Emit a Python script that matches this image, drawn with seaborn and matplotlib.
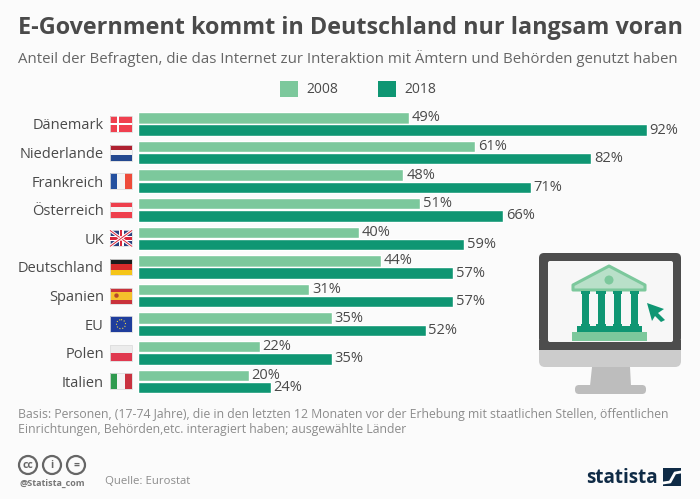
import matplotlib
matplotlib.use("Agg")
import matplotlib.pyplot as plt
from matplotlib.patches import Rectangle, Polygon, Circle, FancyBboxPatch
import pandas as pd
import seaborn as sns

# Data
countries = ["Dänemark", "Niederlande", "Frankreich", "Österreich", "UK",
             "Deutschland", "Spanien", "EU", "Polen", "Italien"]
values_2008 = [49, 61, 48, 51, 40, 44, 31, 35, 22, 20]
values_2018 = [92, 82, 71, 66, 59, 57, 57, 52, 35, 24]
years = ["2008", "2018"]

title = "E-Government kommt in Deutschland nur langsam voran"
subtitle = "Anteil der Befragten, die das Internet zur Interaktion mit Ämtern und Behörden genutzt haben"
note = ("Basis: Personen, (17-74 Jahre), die in den letzten 12 Monaten vor der Erhebung mit staatlichen Stellen, öffentlichen\n"
        "Einrichtungen, Behörden,etc. interagiert haben; ausgewählte Länder")

LIGHT = "#7cc89c"
DARK = "#0f9673"
TEXT = "#4a4a4a"
GREY = "#8c8c8c"
BG = "#fbfbfb"

W, H = 700, 499

sns.set_theme(style="white")
plt.rcParams["font.family"] = ["Open Sans", "DejaVu Sans"]

df = pd.DataFrame({"Land": countries, "2008": values_2008, "2018": values_2018})
df = df.melt(id_vars="Land", value_vars=years, var_name="Jahr", value_name="Anteil")

fig = plt.figure(figsize=(W / 100, H / 100), dpi=100, facecolor=BG)

# Overlay in pixel coordinates for flags, icons and footer
deco = fig.add_axes([0, 0, 1, 1])
deco.set_xlim(0, W)
deco.set_ylim(H, 0)
deco.axis("off")

# Main chart
ax = fig.add_axes([138 / W, 1 - 395.7 / H, 553 / W, 286 / H])
ax.patch.set_alpha(0)
sns.barplot(data=df, y="Land", x="Anteil", hue="Jahr", hue_order=years,
            palette=[LIGHT, DARK], width=0.84, gap=0.05, saturation=1, ax=ax)
ax.set_xlim(0, 100)
ax.set_ylim(9.5, -0.5)
ax.set_xlabel("")
ax.set_ylabel("")
ax.set_xticks([])
ax.tick_params(axis="y", length=0, pad=24.5, labelsize=10.5, labelcolor=TEXT)
sns.despine(ax=ax, left=True, bottom=True)
for container in ax.containers:
    ax.bar_label(container, fmt="%g%%", padding=2, fontsize=10.5, color=TEXT)
ax.get_legend().remove()

# Title block
deco.text(18, 28, title, fontsize=16.8, fontweight="bold", color=TEXT, va="center")
deco.text(18, 58, subtitle, fontsize=10.78, color="#666666", va="center")

# Legend
for x0, col, lab in [(280, LIGHT, years[0]), (378, DARK, years[1])]:
    deco.add_patch(Rectangle((x0, 81), 18, 16, color=col, lw=0))
    deco.text(x0 + 26, 89, lab, fontsize=10, color=TEXT, va="center")


# Flags
def stripes_h(i, colors):
    cy = 124 + 28.6 * i
    h = 16 / len(colors)
    for k, c in enumerate(colors):
        deco.add_patch(Rectangle((110, cy - 8 + k * h), 22, h, color=c, lw=0))
    deco.add_patch(Rectangle((110, cy - 8), 22, 16, fill=False, ec="#dddddd", lw=0.6))


def stripes_v(i, colors):
    cy = 124 + 28.6 * i
    w = 22 / len(colors)
    for k, c in enumerate(colors):
        deco.add_patch(Rectangle((110 + k * w, cy - 8), w, 16, color=c, lw=0))
    deco.add_patch(Rectangle((110, cy - 8), 22, 16, fill=False, ec="#dddddd", lw=0.6))


stripes_h(0, ["#f0404f"])
deco.add_patch(Rectangle((110, 122.7), 22, 2.6, color="white", lw=0))
deco.add_patch(Rectangle((116.5, 116), 2.6, 16, color="white", lw=0))
stripes_h(1, ["#ae2030", "#f4f4f4", "#23488f"])
stripes_v(2, ["#24509f", "#f4f4f4", "#ee4b3a"])
stripes_h(3, ["#ee3f4c", "#f4f4f4", "#ee3f4c"])
# UK
cy = 124 + 28.6 * 4
stripes_h(4, ["#2b3f7f"])
for a, b in [((110, cy - 8), (132, cy + 8)), ((110, cy + 8), (132, cy - 8))]:
    deco.plot(*zip(a, b), color="white", lw=2.2, solid_capstyle="butt")
    deco.plot(*zip(a, b), color="#d9283c", lw=0.7, solid_capstyle="butt")
deco.add_patch(Rectangle((110, cy - 2.5), 22, 5, color="white", lw=0))
deco.add_patch(Rectangle((118.5, cy - 8), 5, 16, color="white", lw=0))
deco.add_patch(Rectangle((110, cy - 1.2), 22, 2.4, color="#d9283c", lw=0))
deco.add_patch(Rectangle((119.8, cy - 8), 2.4, 16, color="#d9283c", lw=0))
stripes_h(5, ["#1c1c1c", "#d92b2b", "#f5c518"])
# Spain
cy = 124 + 28.6 * 6
stripes_h(6, ["#c9323b", "#f5c02c", "#f5c02c", "#c9323b"])
deco.add_patch(Circle((116.5, cy), 2.2, color="#b5482c", lw=0))
# EU
cy = 124 + 28.6 * 7
stripes_h(7, ["#1f3d9c"])
deco.add_patch(Circle((121, cy), 4.5, fill=False, ec="#e8d44a", lw=0.8, ls=":"))
stripes_h(8, ["#ececec", "#e0394f"])
stripes_v(9, ["#2f9a4e", "#f4f4f4", "#c9323f"])

# Monitor icon
deco.add_patch(FancyBboxPatch((539, 335), 142, 32, boxstyle="round,pad=0,rounding_size=6",
                              color="#cccccc", lw=0))
deco.add_patch(FancyBboxPatch((539, 253), 142, 90, boxstyle="round,pad=0,rounding_size=5",
                              color="#4d4d4d", lw=0))
deco.add_patch(Rectangle((539, 340), 142, 10, color="#4d4d4d", lw=0))
deco.add_patch(FancyBboxPatch((548, 261), 125, 81, boxstyle="round,pad=0,rounding_size=2",
                              color="#f7f7f7", lw=0))
deco.add_patch(Polygon([(592, 367), (630, 367), (631, 386), (590, 386)], color="#bdbdbd", lw=0))
deco.add_patch(FancyBboxPatch((575, 385), 71, 9, boxstyle="round,pad=0,rounding_size=4",
                              color="#bdbdbd", lw=0))
# Building
deco.add_patch(Polygon([(609, 266), (645, 285), (645, 290), (573, 290), (573, 285)],
                       fc="#b9e0c9", ec=LIGHT, lw=2.2, joinstyle="round"))
deco.add_patch(Circle((609, 280), 4.5, color=LIGHT, lw=0))
for x0 in [582, 597.5, 614, 631]:
    deco.add_patch(Rectangle((x0, 291), 7, 36, color=DARK, lw=0))
    deco.add_patch(Rectangle((x0 - 1.2, 291), 9.4, 2.5, color=DARK, lw=0))
    deco.add_patch(Rectangle((x0 - 1.2, 324), 9.4, 2.5, color=DARK, lw=0))
deco.add_patch(Rectangle((577, 326), 65, 6, color=DARK, lw=0))
deco.add_patch(Rectangle((572, 332), 75, 9, color=LIGHT, lw=0))
deco.add_patch(Polygon([(647, 303), (664, 309), (658, 313), (665, 320), (661, 322),
                        (655, 316), (652, 321)], color=DARK, lw=0))

# Footer
deco.text(18, 422, note, fontsize=8.83, color=GREY, va="center", linespacing=1.25)
for cx, s in [(28, "cc"), (52, "i"), (76, "=")]:
    deco.add_patch(Circle((cx, 465), 9, fill=False, ec="#666666", lw=1.6))
    deco.text(cx, 465, s, fontsize=7.5, fontweight="bold", color="#666666", ha="center", va="center")
deco.text(19, 483, "@Statista_com", fontsize=6.5, fontweight="bold", color="#777777", va="center")
deco.text(105, 482, "Quelle: Eurostat", fontsize=8.2, color=GREY, va="center")

# Statista logo
deco.text(586, 478, "statista", fontsize=13.6, fontweight="bold", color="#0f2b46", va="center")
deco.add_patch(Rectangle((663, 468), 18, 18, color="#0f2b46", lw=0))
deco.plot([663, 670, 675, 681], [483, 482, 473, 472], color="white", lw=2)

fig.savefig("out.png", dpi=100, facecolor=BG)
